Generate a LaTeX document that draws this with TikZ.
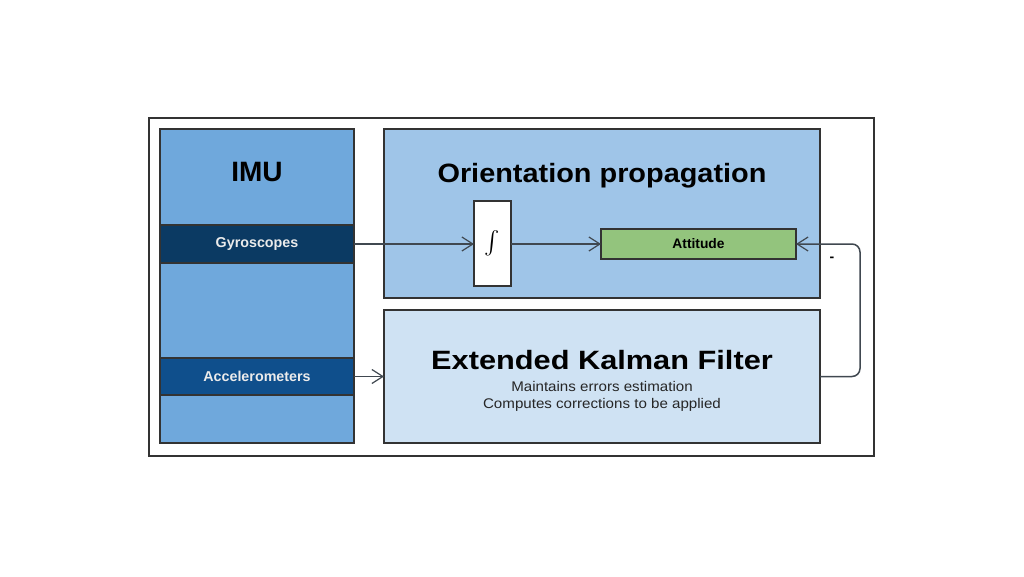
\documentclass[tikz,border=0pt]{standalone}
\usepackage{fontspec}
\usepackage{graphicx}
\setmainfont{Liberation Sans}
\usetikzlibrary{arrows.meta}
\definecolor{imublue}{HTML}{6FA8DC}
\definecolor{gyroblue}{HTML}{0B3A63}
\definecolor{accblue}{HTML}{0F4F8C}
\definecolor{oriblue}{HTML}{9FC5E8}
\definecolor{ekfblue}{HTML}{CFE2F3}
\definecolor{attgreen}{HTML}{93C47D}
\definecolor{edge}{HTML}{333333}
\definecolor{wire}{HTML}{404850}
\newcommand{\wide}[2][1.1]{\scalebox{#1}[1]{#2}}
\tikzset{
  box/.style={draw=edge, line width=1.8pt, inner sep=0pt, outer sep=0pt},
  wirestyle/.style={draw=wire, line width=1.2pt, -{Straight Barb[length=11pt,width=14pt,line width=1.2pt]}},
  title/.style={anchor=base, inner sep=0pt, font=\bfseries\fontsize{26.5}{30}\selectfont},
  sub/.style={anchor=base, inner sep=0pt, text=black!85, font=\fontsize{14}{16}\selectfont},
}
\begin{document}
\begin{tikzpicture}[x=1pt,y=-1pt]
\useasboundingbox (0,0) rectangle (1024,576);
\fill[white] (0,0) rectangle (1024,576);
\node[box, draw=black!80, line width=1.6pt, minimum width=725pt, minimum height=338pt] (frame) at (511.5,287) {};
% IMU
\node[box, fill=imublue, minimum width=194pt, minimum height=314pt] (imu) at (257,286) {};
\node[title, font=\bfseries\fontsize{28}{30}\selectfont] (imut) at (257,181) {IMU};
\node[box, fill=gyroblue, minimum width=194pt, minimum height=38pt, text=white!92!black, font=\bfseries\fontsize{14.3}{16}\selectfont] (gyro) at (257,244) {Gyroscopes};
\node[box, fill=accblue, minimum width=194pt, minimum height=37pt, text=white!92!black, font=\bfseries\fontsize{14.3}{16}\selectfont] (acc) at (257,376.5) {Accelerometers};
% Orientation
\node[box, fill=oriblue, minimum width=436pt, minimum height=169pt] (ori) at (602,213.5) {};
\node[title] (orit) at (602,182) {\wide[1.09]{Orientation propagation}};
\node[box, fill=white, line width=1.4pt, minimum width=37pt, minimum height=85pt] (int) at (492.5,243.5) {\scalebox{2.3}{$\int$}};
\node[box, fill=attgreen, line width=1.4pt, minimum width=195pt, minimum height=30pt, font=\bfseries\fontsize{13.8}{16}\selectfont] (att) at (698.5,244) {Attitude};
% EKF
\node[box, fill=ekfblue, minimum width=436pt, minimum height=133pt] (ekf) at (602,376.5) {};
\node[title] (ekft) at (602,369) {\wide[1.16]{Extended Kalman Filter}};
\node[sub] (ekfs1) at (602,391) {\wide[1.08]{Maintains errors estimation}};
\node[sub] (ekfs2) at (602,408) {\wide[1.08]{Computes corrections to be applied}};
% connectors
\draw[wirestyle] (gyro.east) -- (gyro.east -| int.west);
\draw[wirestyle] (int.east |- att.west) -- (att.west);
\draw[wirestyle, line width=1.5pt] (acc.east) -- (acc.east -| ekf.west);
\coordinate (fb) at (860,0);
\draw[wirestyle, line width=1.5pt, rounded corners=8pt] (ekf.east) -- (fb |- ekf.east) -- (fb |- att.east) -- (att.east);
\node[font=\bfseries\fontsize{14}{16}\selectfont] (minus) at (832,259) {-};
\end{tikzpicture}
\end{document}
